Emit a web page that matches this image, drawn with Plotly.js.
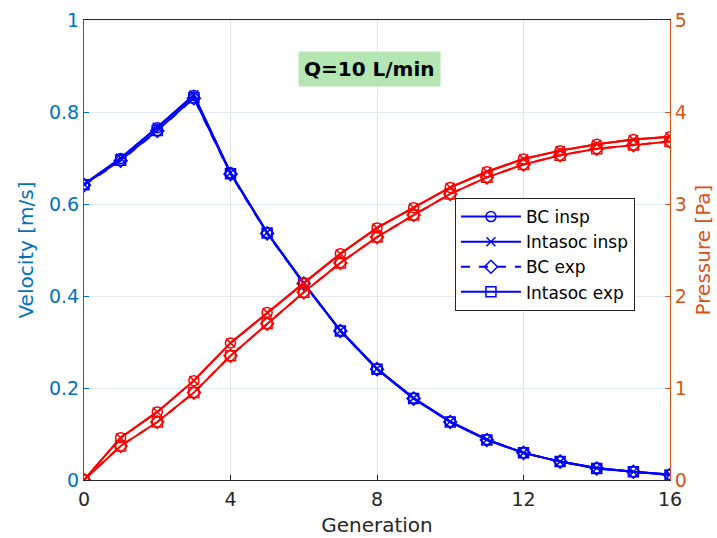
<!DOCTYPE html>
<html>
<head>
<meta charset="utf-8">
<script src="https://cdn.plot.ly/plotly-3.0.1.min.js"></script>
<style>html,body{margin:0;padding:0;background:#fff;}#chart{width:717px;height:538px;}</style>
</head>
<body>
<div id="chart"></div>
<script>
// Generation index
const generation = [0,1,2,3,4,5,6,7,8,9,10,11,12,13,14,15,16];

// Velocity [m/s]
const velBCInsp      = [0.643,0.699,0.766,0.836,0.668,0.538,0.428,0.325,0.242,0.178,0.127,0.088,0.059,0.040,0.026,0.018,0.012];
const velIntasocInsp = [0.643,0.700,0.767,0.837,0.668,0.538,0.428,0.325,0.242,0.178,0.127,0.088,0.059,0.040,0.026,0.018,0.012];
const velBCExp       = [0.641,0.694,0.759,0.830,0.665,0.536,0.427,0.324,0.241,0.177,0.126,0.087,0.059,0.040,0.025,0.018,0.011];
const velIntasocExp  = [0.642,0.695,0.760,0.831,0.666,0.537,0.427,0.324,0.241,0.177,0.126,0.087,0.059,0.040,0.025,0.018,0.011];

// Pressure [Pa]
const presBCInsp      = [0,0.46,0.74,1.08,1.49,1.82,2.14,2.46,2.74,2.96,3.18,3.35,3.49,3.58,3.65,3.70,3.73];
const presIntasocInsp = [0,0.46,0.74,1.08,1.49,1.82,2.14,2.46,2.74,2.96,3.18,3.35,3.49,3.58,3.65,3.70,3.73];
const presBCExp       = [0,0.37,0.63,0.95,1.35,1.70,2.04,2.36,2.64,2.88,3.11,3.29,3.43,3.53,3.60,3.64,3.68];
const presIntasocExp  = [0,0.37,0.63,0.95,1.35,1.70,2.04,2.36,2.64,2.88,3.11,3.29,3.43,3.53,3.60,3.64,3.68];

const seriesNames = ['BC insp','Intasoc insp','BC exp','Intasoc exp'];
const annotationText = 'Q=10 L/min';

const symbols = ['circle-open','x-thin-open','diamond-open','square-open'];
const dashes = ['solid','solid','dash','solid'];
const velSets = [velBCInsp, velIntasocInsp, velBCExp, velIntasocExp];
const presSets = [presBCInsp, presIntasocInsp, presBCExp, presIntasocExp];

const traces = [];
velSets.forEach((v,i)=>{
  traces.push({
    x: generation, y: v, type:'scatter', mode:'lines+markers', name: seriesNames[i],
    yaxis:'y', line:{color:'#0000ff', width:2, dash:dashes[i]},
    marker:{symbol:symbols[i], size:i===1?9:10, color:'#0000ff', line:{color:'#0000ff', width:1.5}},
    showlegend:true
  });
});
presSets.forEach((p,i)=>{
  traces.push({
    x: generation, y: p, type:'scatter', mode:'lines+markers', name: seriesNames[i]+' (p)',
    yaxis:'y2', line:{color:'#ff0000', width:2, dash:dashes[i]},
    marker:{symbol:symbols[i], size:i===1?9:10, color:'#ff0000', line:{color:'#ff0000', width:1.5}},
    showlegend:false
  });
});

const layout = {
  width:717, height:538,
  margin:{l:84, r:47, t:20, b:58},
  paper_bgcolor:'#ffffff', plot_bgcolor:'#ffffff',
  font:{family:'DejaVu Sans, sans-serif', size:19, color:'#262626'},
  showlegend:true,
  xaxis:{
    range:[0,16], tickvals:[0,4,8,12,16], ticks:'inside', ticklen:5, tickcolor:'#262626',
    showline:true, linecolor:'#262626', linewidth:1, mirror:true,
    showgrid:true, gridcolor:'#e3e3e3', gridwidth:1, zeroline:false,
    tickfont:{size:19, color:'#262626'}, ticklabelstandoff:2,
    title:{text:'Generation', font:{size:20, color:'#262626'}, standoff:9}
  },
  yaxis:{
    range:[0,1], dtick:0.2, ticks:'inside', ticklen:5, tickcolor:'#0072bd',
    showline:true, linecolor:'#0072bd', linewidth:1,
    showgrid:true, gridcolor:'#e1ecf6', gridwidth:1, zeroline:false,
    tickfont:{size:19, color:'#0072bd'},
    title:{text:'Velocity [m/s]', font:{size:20, color:'#0072bd'}, standoff:9}
  },
  yaxis2:{
    range:[0,5], dtick:1, overlaying:'y', side:'right', ticks:'inside', ticklen:5, tickcolor:'#d95319',
    showline:true, linecolor:'#d95319', linewidth:1,
    showgrid:false, zeroline:false,
    tickfont:{size:19, color:'#d95319'},
    title:{text:'Pressure [Pa]', font:{size:20, color:'#d95319'}, standoff:10}
  },
  legend:{
    x:0.633, y:0.613, xanchor:'left', yanchor:'top',
    bgcolor:'#ffffff', bordercolor:'#262626', borderwidth:1,
    font:{size:17, color:'#000000'}, tracegroupgap:0, itemwidth:60
  },
  annotations:[{
    x:7.8, y:0.893, xref:'x', yref:'y', text:'<b>'+annotationText+'</b>', showarrow:false,
    bgcolor:'#b3e6b3', borderpad:5, font:{size:20, color:'#000000'}
  }]
};

Plotly.newPlot('chart', traces, layout, {displayModeBar:false, staticPlot:true});
</script>
</body>
</html>
